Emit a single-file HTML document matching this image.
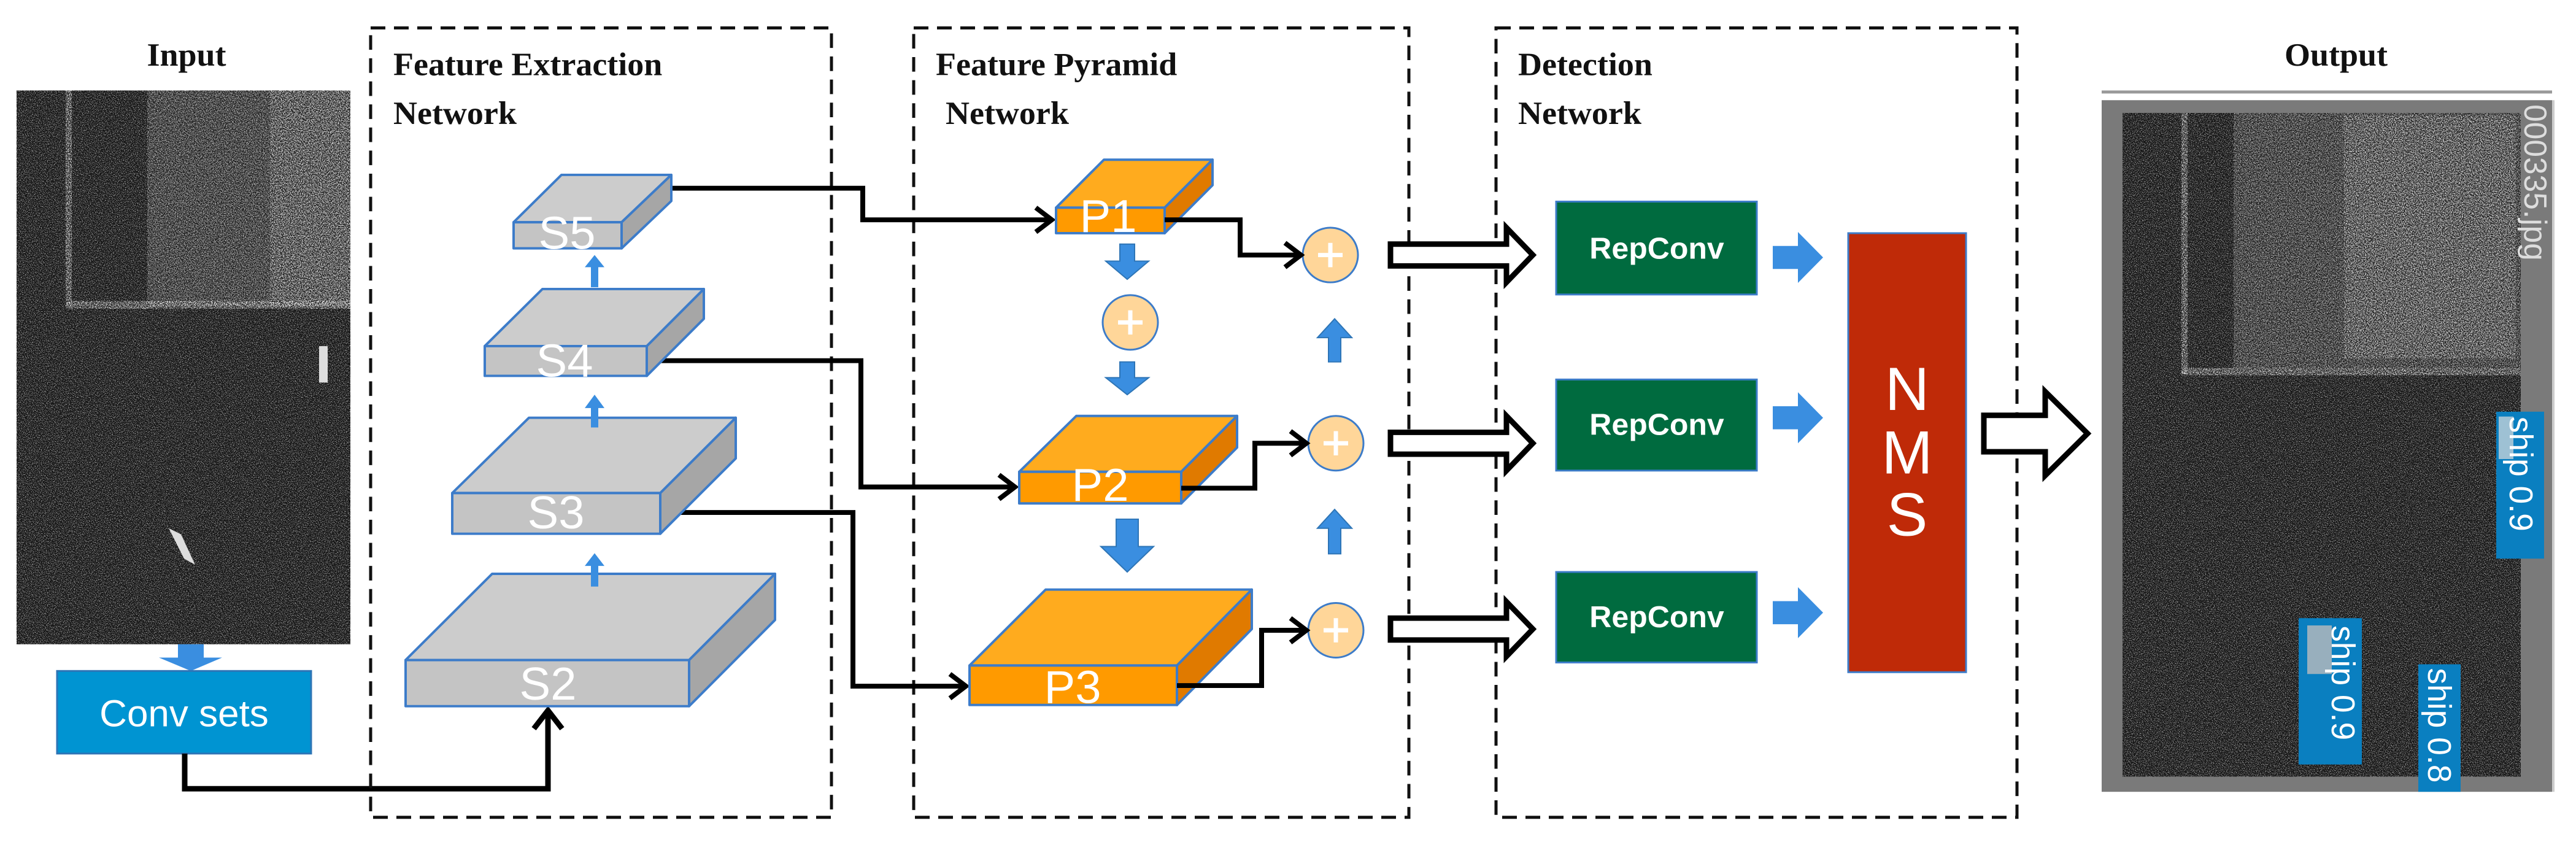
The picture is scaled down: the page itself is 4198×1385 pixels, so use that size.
<!DOCTYPE html>
<html><head><meta charset="utf-8"><style>
html,body{margin:0;padding:0;background:#fff;}
svg{display:block;}
.t{font-family:"Liberation Serif",serif;font-weight:bold;font-size:54px;fill:#111;}
.w{font-family:"Liberation Sans",sans-serif;fill:#fff;}
</style></head><body>
<svg width="4198" height="1385" viewBox="0 0 4198 1385" xmlns="http://www.w3.org/2000/svg">
<defs>
<filter id="nz" x="0" y="0" width="100%" height="100%">
<feTurbulence type="fractalNoise" baseFrequency="0.7" numOctaves="2" seed="7"/>
<feColorMatrix type="matrix" values="0 0 0 0 1  0 0 0 0 1  0 0 0 0 1  3.2 0 0 0 -1.45"/>
</filter>
<filter id="nzb" x="0" y="0" width="100%" height="100%">
<feTurbulence type="fractalNoise" baseFrequency="0.55" numOctaves="2" seed="21"/>
<feColorMatrix type="matrix" values="0 0 0 0 1  0 0 0 0 1  0 0 0 0 1  3.5 0 0 0 -1.5"/>
</filter>
</defs>
<g transform="scale(1,0.9894)">
<!-- Input -->
<text class="t" x="304" y="108" text-anchor="middle">Input</text>
<rect x="27" y="149" width="544" height="912" fill="#0e0e0e"/>
<rect x="27" y="149" width="544" height="912" filter="url(#nz)" opacity="0.65"/>
<rect x="240" y="149" width="331" height="355" filter="url(#nzb)" opacity="0.5"/>
<rect x="440" y="149" width="131" height="355" filter="url(#nzb)" opacity="0.45"/>
<rect x="107" y="149" width="10" height="355" filter="url(#nzb)" opacity="0.8"/>
<rect x="107" y="496" width="464" height="12" filter="url(#nzb)" opacity="0.8"/>
<rect x="520" y="570" width="14" height="60" fill="#ddd"/>
<path d="M275 870 L300 920 L318 930 L295 880 Z" fill="#ddd"/>
<polygon points="290,1061 332,1061 332,1083 362,1083 311,1105 259,1083 290,1083" fill="#3a8ee0"/>
<rect x="93" y="1105" width="414" height="136" fill="#0094d2" stroke="#2e75b6" stroke-width="3"/>
<text class="w" x="300" y="1196" text-anchor="middle" font-size="62">Conv sets</text>
<polyline points="301,1241 301,1299 893,1299 893,1172" fill="none" stroke="#000" stroke-width="9"/>
<polyline points="870,1200 893,1170 916,1200" fill="none" stroke="#000" stroke-width="9"/>

<g fill="none" stroke="#111" stroke-width="5" stroke-dasharray="24 14">
<rect x="604" y="46" width="751" height="1300"/>
<rect x="1489" y="46" width="807" height="1300"/>
<rect x="2438" y="46" width="849" height="1300"/>
</g>
<text class="t" x="641" y="124">Feature Extraction</text>
<text class="t" x="641" y="204">Network</text>
<text class="t" x="1525" y="124">Feature Pyramid</text>
<text class="t" x="1541" y="204">Network</text>
<text class="t" x="2474" y="124">Detection</text>
<text class="t" x="2474" y="204">Network</text>

<g fill="none" stroke="#000" stroke-width="8">
<polyline points="1094,310 1406,310 1406,362 1712,362"/>
<polyline points="1688,342 1714,362 1688,382"/>
<polyline points="1054,594 1403,594 1403,802 1652,802"/>
<polyline points="1628,782 1654,802 1628,822"/>
<polyline points="1076,844 1390,844 1390,1130 1572,1130"/>
<polyline points="1548,1110 1574,1130 1548,1150"/>
</g>

<g stroke="#3d7cc9" stroke-width="4" stroke-linejoin="round">
<polygon points="837,366 915,288 1094,288 1013,366" fill="#cccccc"/>
<polygon points="1013,366 1094,288 1094,331 1013,409" fill="#a6a6a6"/>
<rect x="837" y="366" width="176" height="43" fill="#c4c4c4"/>
<polygon points="790,570 884,476 1147,476 1054,570" fill="#cccccc"/>
<polygon points="1054,570 1147,476 1147,525 1054,619" fill="#a6a6a6"/>
<rect x="790" y="570" width="264" height="49" fill="#c4c4c4"/>
<polygon points="737,812 862,688 1199,688 1076,812" fill="#cccccc"/>
<polygon points="1076,812 1199,688 1199,755 1076,879" fill="#a6a6a6"/>
<rect x="737" y="812" width="339" height="67" fill="#c4c4c4"/>
<polygon points="661,1087 802,945 1263,945 1123,1087" fill="#cccccc"/>
<polygon points="1123,1087 1263,945 1263,1021 1123,1163" fill="#a6a6a6"/>
<rect x="661" y="1087" width="462" height="76" fill="#c4c4c4"/>
</g>
<g class="w" font-size="76" text-anchor="middle">
<text x="924" y="410">S5</text>
<text x="920" y="620">S4</text>
<text x="906" y="870">S3</text>
<text x="893" y="1152">S2</text>
</g>
<g fill="#3a8ee0">
<polygon points="963,473 975,473 975,440 985,440 969,420 953,440 963,440"/>
<polygon points="963,704 975,704 975,672 985,672 969,650 953,672 963,672"/>
<polygon points="963,966 975,966 975,932 985,932 969,911 953,932 963,932"/>
</g>

<g stroke="#3d7cc9" stroke-width="4" stroke-linejoin="round">
<polygon points="1721,342 1799,263 1976,263 1898,342" fill="#ffab1e"/>
<polygon points="1898,342 1976,263 1976,305 1898,384" fill="#e07a00"/>
<rect x="1721" y="342" width="177" height="42" fill="#ff9a00"/>
<polygon points="1661,777 1754,685 2016,685 1925,777" fill="#ffab1e"/>
<polygon points="1925,777 2016,685 2016,737 1925,829" fill="#e07a00"/>
<rect x="1661" y="777" width="264" height="52" fill="#ff9a00"/>
<polygon points="1580,1096 1704,971 2040,971 1918,1096" fill="#ffab1e"/>
<polygon points="1918,1096 2040,971 2040,1036 1918,1161" fill="#e07a00"/>
<rect x="1580" y="1096" width="338" height="65" fill="#ff9a00"/>
</g>
<g class="w" font-size="76" text-anchor="middle">
<text x="1806" y="382">P1</text>
<text x="1793" y="825">P2</text>
<text x="1748" y="1158">P3</text>
</g>

<g fill="#3a8ee0" stroke="#2e75b6" stroke-width="2">
<polygon points="1825,402 1849,402 1849,430 1872,430 1837,460 1802,430 1825,430"/>
<polygon points="1825,596 1849,596 1849,622 1872,622 1837,650 1802,622 1825,622"/>
<polygon points="1819,855 1855,855 1855,900 1880,900 1837,942 1794,900 1819,900"/>
<polygon points="2165,596 2185,596 2185,556 2203,556 2175,525 2147,556 2165,556"/>
<polygon points="2165,912 2185,912 2185,870 2203,870 2175,839 2147,870 2165,870"/>
</g>
<g fill="#ffd699" stroke="#3d7cc9" stroke-width="3">
<circle cx="1842" cy="531" r="45"/>
<circle cx="2168" cy="420" r="45"/>
<circle cx="2177" cy="730" r="45"/>
<circle cx="2177" cy="1038" r="45"/>
</g>
<g stroke="#fff" stroke-width="7">
<path d="M1822 531 H1862 M1842 511 V551"/>
<path d="M2148 420 H2188 M2168 400 V440"/>
<path d="M2157 730 H2197 M2177 710 V750"/>
<path d="M2157 1038 H2197 M2177 1018 V1058"/>
</g>
<g fill="none" stroke="#000" stroke-width="8">
<polyline points="1898,362 2021,362 2021,420 2118,420"/>
<polyline points="2094,400 2120,420 2094,440"/>
<polyline points="1925,804 2045,804 2045,730 2127,730"/>
<polyline points="2103,710 2129,730 2103,750"/>
<polyline points="1918,1129 2056,1129 2056,1038 2127,1038"/>
<polyline points="2103,1018 2129,1038 2103,1058"/>
</g>
<g fill="#fff" stroke="#000" stroke-width="9" stroke-linejoin="miter">
<polygon points="2266,402 2455,402 2455,375 2498,420 2455,465 2455,438 2266,438"/>
<polygon points="2266,712 2455,712 2455,685 2498,730 2455,775 2455,748 2266,748"/>
<polygon points="2266,1018 2455,1018 2455,991 2498,1036 2455,1081 2455,1054 2266,1054"/>
<polygon points="3233,684 3333,684 3333,645 3402,714 3333,783 3333,744 3233,744"/>
</g>
<g fill="#006b3f" stroke="#3d7cc9" stroke-width="3">
<rect x="2536" y="332" width="327" height="153"/>
<rect x="2536" y="625" width="327" height="150"/>
<rect x="2536" y="942" width="327" height="149"/>
</g>
<g class="w" font-size="50" font-weight="bold" text-anchor="middle">
<text x="2700" y="426">RepConv</text>
<text x="2700" y="716">RepConv</text>
<text x="2700" y="1033">RepConv</text>
</g>
<g fill="#3a8ee0">
<polygon points="2889,405 2930,405 2930,382 2971,424 2930,466 2930,443 2889,443"/>
<polygon points="2889,669 2930,669 2930,646 2971,688 2930,730 2930,707 2889,707"/>
<polygon points="2889,990 2930,990 2930,967 2971,1009 2930,1051 2930,1028 2889,1028"/>
</g>
<rect x="3012" y="384" width="192" height="723" fill="#bf2a08" stroke="#3d7cc9" stroke-width="3"/>
<g class="w" font-size="100" text-anchor="middle">
<text x="3108" y="675">N</text>
<text x="3108" y="780">M</text>
<text x="3108" y="882">S</text>
</g>

<text class="t" x="3807" y="108" text-anchor="middle">Output</text>
<rect x="3425" y="149" width="734" height="5" fill="#999"/>
<rect x="3425" y="165" width="734" height="1139" fill="#7a7a7a"/>
<rect x="4159" y="165" width="4" height="1139" fill="#ccc"/>
<rect x="3459" y="186" width="649" height="1093" fill="#0e0e0e"/>
<rect x="3459" y="186" width="649" height="1093" filter="url(#nz)" opacity="0.65"/>
<rect x="3640" y="186" width="468" height="420" filter="url(#nzb)" opacity="0.5"/>
<rect x="3820" y="190" width="280" height="400" filter="url(#nzb)" opacity="0.45"/>
<rect x="3555" y="186" width="10" height="430" filter="url(#nzb)" opacity="0.8"/>
<rect x="3555" y="606" width="553" height="12" filter="url(#nzb)" opacity="0.8"/>
<text x="4114" y="172" transform="rotate(90 4114 172)" font-family="Liberation Sans,sans-serif" font-size="52" fill="#ddd">000335.jpg</text>
<g fill="#0a7fc0">
<rect x="4068" y="678" width="78" height="242"/>
<rect x="3746" y="1018" width="103" height="241"/>
<rect x="3941" y="1094" width="69" height="210"/>
</g>
<rect x="4072" y="686" width="24" height="70" fill="#ddd" opacity="0.7"/>
<rect x="3760" y="1030" width="40" height="80" fill="#bbb" opacity="0.8"/>
<g class="w" font-size="54">
<text x="4090" y="686" transform="rotate(90 4090 686)">ship 0.9</text>
<text x="3800" y="1030" transform="rotate(90 3800 1030)">ship 0.9</text>
<text x="3957" y="1100" transform="rotate(90 3957 1100)">ship 0.8</text>
</g>
</g>
</svg>
</body></html>
